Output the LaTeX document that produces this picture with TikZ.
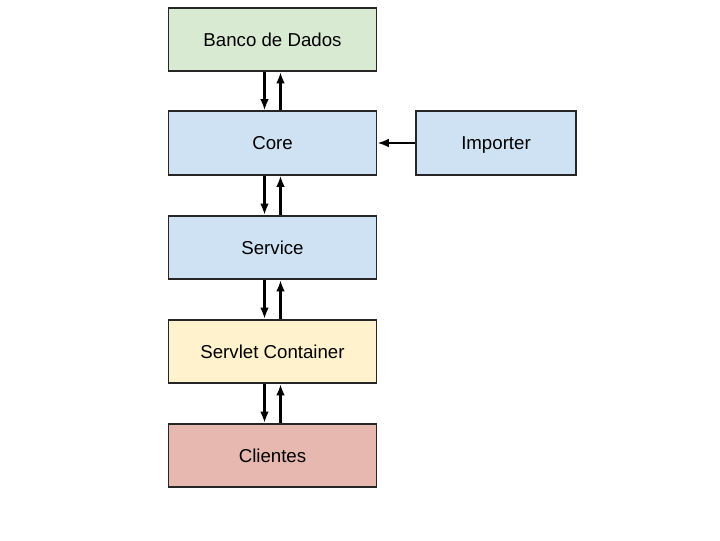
\documentclass[tikz,border=0pt]{standalone}
\usepackage{fontspec}
\setmainfont{Liberation Sans}
\usetikzlibrary{arrows.meta}
\definecolor{dbgreen}{HTML}{D9EAD3}
\definecolor{coreblue}{HTML}{CFE2F3}
\definecolor{srvyellow}{HTML}{FFF2CC}
\definecolor{clired}{HTML}{E6B8AF}
\begin{document}
\begin{tikzpicture}[x=0.75pt, y=-0.75pt,
    every node/.style={rectangle, draw=black!85, line width=1.4pt, minimum width=156pt, minimum height=47.5pt, text height=10pt, text depth=0pt, font=\fontsize{14}{16}\selectfont},
    link/.style={-{Latex[length=8.5pt, width=6.5pt]}, line width=1.6pt}]
            \useasboundingbox (0,0) rectangle (720,540);
            % Nodes
            \node[fill=dbgreen] (banco) at (272.5,39.5) {Banco de Dados};
            \node[fill=coreblue] (core) at (272.5,143) {Core};
            \node[fill=coreblue, minimum width=120pt] (importer) at (496,143) {Importer};
            \node[fill=coreblue] (service) at (272.5,247.5) {Service};
            \node[fill=srvyellow] (servlet) at (272.5,351.5) {Servlet Container};
            \node[fill=clired] (clientes) at (272.5,455.5) {Clientes};

            % Edges
            \foreach \a/\b in {banco/core, core/service, service/servlet, servlet/clientes} {
                \draw[link] ([xshift=-6pt]\a.south) -- ([xshift=-6pt]\b.north);
                \draw[link] ([xshift=6pt]\b.north) -- ([xshift=6pt]\a.south);
            }
            \draw[link] (importer) -- (core);
        \end{tikzpicture}
\end{document}
